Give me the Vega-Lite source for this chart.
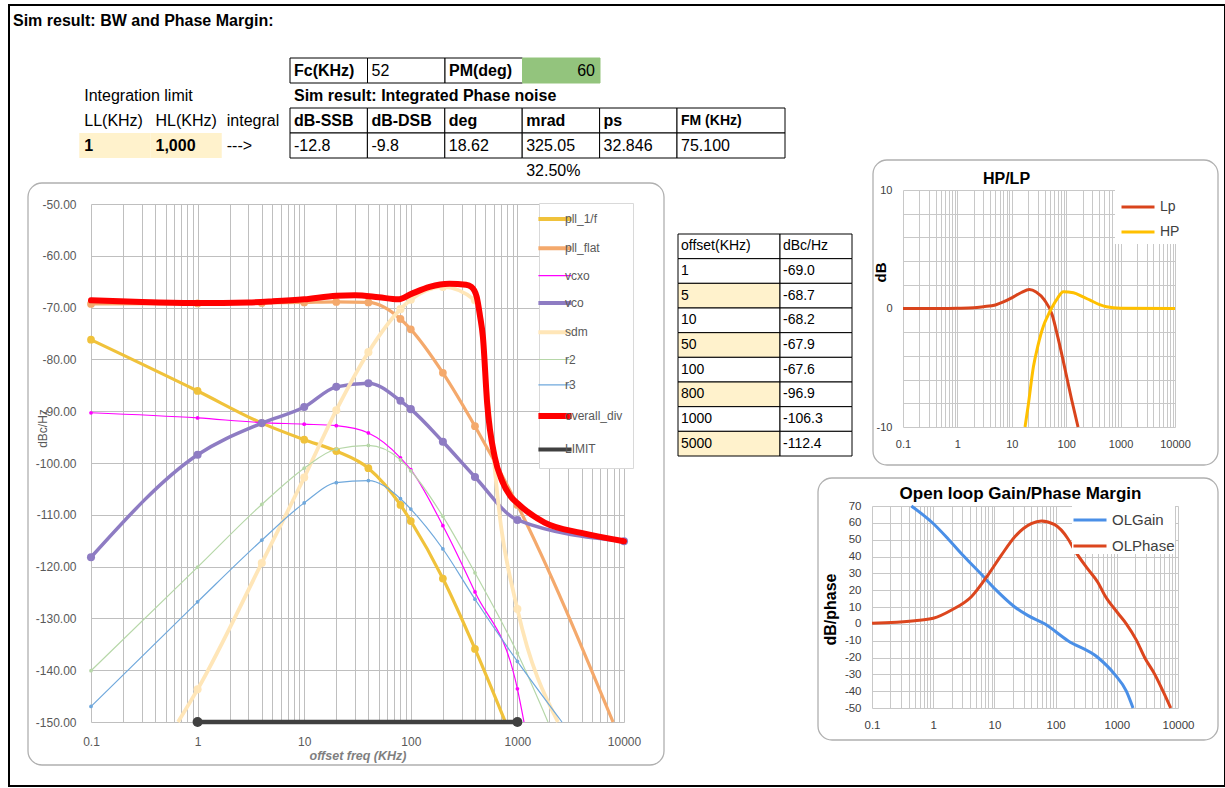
{
"$schema":"https://vega.github.io/schema/vega-lite/v6.json",
"width":1216,"height":781,
"autosize":{"type":"none"},
"padding":{"left":9,"top":5,"right":0,"bottom":2},
"background":"#ffffff",
"config":{"view":{"stroke":"#000000","strokeWidth":2},"font":"Liberation Sans"},
"datasets":{
"panels":[{"panel":"main"},{"panel":"hp"},{"panel":"ol"}],
"hdr":[
{"block":"left","row":"title","col":"t","text":"Sim result: BW and Phase Margin:","role":"title"},
{"block":"left","row":"lim","col":"LL","text":"Integration limit","role":"note"},
{"block":"left","row":"head","col":"LL","text":"LL(KHz)","role":"note"},
{"block":"left","row":"head","col":"HL","text":"HL(KHz)","role":"note"},
{"block":"left","row":"head","col":"int","text":"integral","role":"note"},
{"block":"left","row":"val","col":"LL","text":"1","role":"input"},
{"block":"left","row":"val","col":"HL","text":"1,000","role":"input"},
{"block":"left","row":"val","col":"int","text":"--->","role":"note"},
{"block":"t1","row":"fc","col":"Fc(KHz)","text":"Fc(KHz)","role":"label"},
{"block":"t1","row":"fc","col":"Fc","text":"52","role":"value"},
{"block":"t1","row":"fc","col":"PM(deg)","text":"PM(deg)","role":"label"},
{"block":"t1","row":"fc","col":"PM","text":"60","role":"result"},
{"block":"t2","row":"lim","col":"dB-SSB","text":"Sim result: Integrated Phase noise","role":"title"},
{"block":"t2","row":"head","col":"dB-SSB","text":"dB-SSB","role":"label"},
{"block":"t2","row":"head","col":"dB-DSB","text":"dB-DSB","role":"label"},
{"block":"t2","row":"head","col":"deg","text":"deg","role":"label"},
{"block":"t2","row":"head","col":"mrad","text":"mrad","role":"label"},
{"block":"t2","row":"head","col":"ps","text":"ps","role":"label"},
{"block":"t2","row":"val","col":"dB-SSB","text":"-12.8","role":"value"},
{"block":"t2","row":"val","col":"dB-DSB","text":"-9.8","role":"value"},
{"block":"t2","row":"val","col":"deg","text":"18.62","role":"value"},
{"block":"t2","row":"val","col":"mrad","text":"325.05","role":"value"},
{"block":"t2","row":"val","col":"ps","text":"32.846","role":"value"},
{"block":"t2","row":"pct","col":"mrad","text":"32.50%","role":"value"},
{"block":"fm","row":"head","col":"FM (KHz)","text":"FM (KHz)","role":"label"},
{"block":"fm","row":"val","col":"FM (KHz)","text":"75.100","role":"value"}
],
"offs":[
{"offset":"offset(KHz)","dBc":"dBc/Hz"},
{"offset":"1","dBc":"-69.0"},
{"offset":"5","dBc":"-68.7"},
{"offset":"10","dBc":"-68.2"},
{"offset":"50","dBc":"-67.9"},
{"offset":"100","dBc":"-67.6"},
{"offset":"800","dBc":"-96.9"},
{"offset":"1000","dBc":"-106.3"},
{"offset":"5000","dBc":"-112.4"}
],
"main":[
{"series":"pll_1/f","f":0.1,"dB":-76.2},{"series":"pll_1/f","f":1,"dB":-86.1},{"series":"pll_1/f","f":4,"dB":-92.3},{"series":"pll_1/f","f":10,"dB":-95.5},{"series":"pll_1/f","f":20,"dB":-97.7},{"series":"pll_1/f","f":40,"dB":-101.0},{"series":"pll_1/f","f":80,"dB":-108.1},{"series":"pll_1/f","f":100,"dB":-111.2},{"series":"pll_1/f","f":200,"dB":-122.3},{"series":"pll_1/f","f":400,"dB":-135.9},{"series":"pll_1/f","f":770,"dB":-150},
{"series":"pll_flat","f":0.1,"dB":-69.3},{"series":"pll_flat","f":1,"dB":-69.2},{"series":"pll_flat","f":4,"dB":-69.1},{"series":"pll_flat","f":10,"dB":-69.0},{"series":"pll_flat","f":20,"dB":-68.9},{"series":"pll_flat","f":40,"dB":-69.0},{"series":"pll_flat","f":80,"dB":-72.2},{"series":"pll_flat","f":100,"dB":-74.2},{"series":"pll_flat","f":200,"dB":-82.6},{"series":"pll_flat","f":400,"dB":-92.9},{"series":"pll_flat","f":1000,"dB":-108.1},{"series":"pll_flat","f":7890,"dB":-150},
{"series":"vcxo","f":0.1,"dB":-90.3},{"series":"vcxo","f":1,"dB":-91.3},{"series":"vcxo","f":4,"dB":-92.2},{"series":"vcxo","f":10,"dB":-92.5},{"series":"vcxo","f":20,"dB":-92.8},{"series":"vcxo","f":40,"dB":-94.2},{"series":"vcxo","f":80,"dB":-99.0},{"series":"vcxo","f":100,"dB":-101.3},{"series":"vcxo","f":200,"dB":-112.1},{"series":"vcxo","f":400,"dB":-124.9},{"series":"vcxo","f":1000,"dB":-143.6},{"series":"vcxo","f":1153,"dB":-150},
{"series":"vco","f":0.1,"dB":-118.2},{"series":"vco","f":1,"dB":-98.4},{"series":"vco","f":4,"dB":-92.3},{"series":"vco","f":10,"dB":-89.2},{"series":"vco","f":20,"dB":-85.3},{"series":"vco","f":40,"dB":-84.6},{"series":"vco","f":80,"dB":-88.0},{"series":"vco","f":100,"dB":-89.6},{"series":"vco","f":200,"dB":-95.9},{"series":"vco","f":400,"dB":-102.7},{"series":"vco","f":1000,"dB":-111.0},{"series":"vco","f":10000,"dB":-115.1},
{"series":"sdm","f":0.655,"dB":-150},{"series":"sdm","f":1,"dB":-143.7},{"series":"sdm","f":4,"dB":-119.3},{"series":"sdm","f":10,"dB":-102.8},{"series":"sdm","f":20,"dB":-89.8},{"series":"sdm","f":40,"dB":-78.6},{"series":"sdm","f":80,"dB":-70.3},{"series":"sdm","f":100,"dB":-68.5},{"series":"sdm","f":200,"dB":-66.0},{"series":"sdm","f":400,"dB":-68.6},{"series":"sdm","f":450,"dB":-72.5},{"series":"sdm","f":500,"dB":-82},{"series":"sdm","f":700,"dB":-112},{"series":"sdm","f":1000,"dB":-128.2},{"series":"sdm","f":2400,"dB":-150},
{"series":"r2","f":0.1,"dB":-140.1},{"series":"r2","f":1,"dB":-120.1},{"series":"r2","f":4,"dB":-108.0},{"series":"r2","f":10,"dB":-101.0},{"series":"r2","f":20,"dB":-97.3},{"series":"r2","f":40,"dB":-96.6},{"series":"r2","f":80,"dB":-99.4},{"series":"r2","f":100,"dB":-101.5},{"series":"r2","f":200,"dB":-110.3},{"series":"r2","f":400,"dB":-121.2},{"series":"r2","f":1000,"dB":-136.7},{"series":"r2","f":1937,"dB":-150},
{"series":"r3","f":0.1,"dB":-147.0},{"series":"r3","f":1,"dB":-126.8},{"series":"r3","f":4,"dB":-114.9},{"series":"r3","f":10,"dB":-107.7},{"series":"r3","f":20,"dB":-103.8},{"series":"r3","f":40,"dB":-103.4},{"series":"r3","f":80,"dB":-106.9},{"series":"r3","f":100,"dB":-108.9},{"series":"r3","f":200,"dB":-116.6},{"series":"r3","f":400,"dB":-126.3},{"series":"r3","f":1000,"dB":-138.3},{"series":"r3","f":2620,"dB":-150},
{"series":"overall_div","f":0.1,"dB":-68.6},{"series":"overall_div","f":0.3,"dB":-68.9},{"series":"overall_div","f":1,"dB":-69.1},{"series":"overall_div","f":3,"dB":-69.0},{"series":"overall_div","f":5,"dB":-68.8},{"series":"overall_div","f":10,"dB":-68.4},{"series":"overall_div","f":20,"dB":-67.7},{"series":"overall_div","f":30,"dB":-67.6},{"series":"overall_div","f":50,"dB":-68.0},{"series":"overall_div","f":76,"dB":-68.4},{"series":"overall_div","f":100,"dB":-67.4},{"series":"overall_div","f":150,"dB":-66.0},{"series":"overall_div","f":230,"dB":-65.4},{"series":"overall_div","f":330,"dB":-65.6},{"series":"overall_div","f":370,"dB":-66.0},{"series":"overall_div","f":415,"dB":-67.9},{"series":"overall_div","f":445,"dB":-71.5},{"series":"overall_div","f":475,"dB":-75.7},{"series":"overall_div","f":520,"dB":-88.4},{"series":"overall_div","f":612,"dB":-98.8},{"series":"overall_div","f":720,"dB":-103.5},{"series":"overall_div","f":853,"dB":-106.3},{"series":"overall_div","f":1018,"dB":-107.9},{"series":"overall_div","f":1800,"dB":-111.5},{"series":"overall_div","f":3980,"dB":-113.5},{"series":"overall_div","f":10000,"dB":-115.1},
{"series":"LIMIT","f":1,"dB":-150},{"series":"LIMIT","f":1000,"dB":-150}
],
"hp":[
{"series":"Lp","f":0.1,"dB":0},{"series":"Lp","f":0.5,"dB":0},{"series":"Lp","f":1,"dB":0.02},{"series":"Lp","f":2,"dB":0.06},{"series":"Lp","f":3,"dB":0.15},{"series":"Lp","f":5,"dB":0.3},{"series":"Lp","f":7,"dB":0.55},{"series":"Lp","f":10,"dB":0.9},{"series":"Lp","f":15,"dB":1.35},{"series":"Lp","f":21,"dB":1.6},{"series":"Lp","f":28,"dB":1.4},{"series":"Lp","f":40,"dB":0.7},{"series":"Lp","f":55,"dB":-0.5},{"series":"Lp","f":70,"dB":-2.4},{"series":"Lp","f":88,"dB":-4.4},{"series":"Lp","f":126,"dB":-7.7},{"series":"Lp","f":165,"dB":-10},
{"series":"HP","f":17.5,"dB":-10},{"series":"HP","f":20,"dB":-8.2},{"series":"HP","f":25,"dB":-4.9},{"series":"HP","f":30,"dB":-3.2},{"series":"HP","f":38,"dB":-1.5},{"series":"HP","f":45,"dB":-0.7},{"series":"HP","f":55,"dB":0.1},{"series":"HP","f":70,"dB":0.9},{"series":"HP","f":88,"dB":1.42},{"series":"HP","f":136,"dB":1.33},{"series":"HP","f":200,"dB":1.0},{"series":"HP","f":270,"dB":0.72},{"series":"HP","f":400,"dB":0.35},{"series":"HP","f":550,"dB":0.15},{"series":"HP","f":1000,"dB":0.03},{"series":"HP","f":10000,"dB":0}
],
"ol":[
{"series":"OLGain","f":0.44,"dB":70},{"series":"OLGain","f":1,"dB":59.6},{"series":"OLGain","f":1.8,"dB":50},{"series":"OLGain","f":3.2,"dB":40},{"series":"OLGain","f":5.9,"dB":30},{"series":"OLGain","f":10.7,"dB":20},{"series":"OLGain","f":21.5,"dB":10},{"series":"OLGain","f":35,"dB":5},{"series":"OLGain","f":66,"dB":0},{"series":"OLGain","f":159,"dB":-10},{"series":"OLGain","f":491,"dB":-20},{"series":"OLGain","f":923,"dB":-30},{"series":"OLGain","f":1432,"dB":-40},{"series":"OLGain","f":1840,"dB":-50},
{"series":"OLPhase","f":0.1,"dB":0.4},{"series":"OLPhase","f":0.5,"dB":1.9},{"series":"OLPhase","f":1,"dB":3.3},{"series":"OLPhase","f":2,"dB":8.2},{"series":"OLPhase","f":4.2,"dB":16.1},{"series":"OLPhase","f":7.85,"dB":29},{"series":"OLPhase","f":13,"dB":40.8},{"series":"OLPhase","f":21.4,"dB":51.6},{"series":"OLPhase","f":40,"dB":59.5},{"series":"OLPhase","f":58.5,"dB":61.1},{"series":"OLPhase","f":96.6,"dB":58.9},{"series":"OLPhase","f":158,"dB":50.7},{"series":"OLPhase","f":204,"dB":43.8},{"series":"OLPhase","f":330,"dB":32.9},{"series":"OLPhase","f":492,"dB":24.6},{"series":"OLPhase","f":631,"dB":17.1},{"series":"OLPhase","f":1045,"dB":6.3},{"series":"OLPhase","f":1430,"dB":0},{"series":"OLPhase","f":2090,"dB":-9.7},{"series":"OLPhase","f":2850,"dB":-20},{"series":"OLPhase","f":4170,"dB":-30},{"series":"OLPhase","f":5690,"dB":-40},{"series":"OLPhase","f":7590,"dB":-50}
]
},
"resolve":{"scale":{"x":"independent","y":"independent","color":"independent"},"axis":{"x":"independent","y":"independent"},"legend":{"color":"independent"}},
"layer":[
{"data":{"name":"panels"},"transform":[{"filter":"datum.panel === 'main'"}],
 "mark":{"type":"rect","filled":false,"stroke":"#b0b0b0","strokeWidth":1.3,"cornerRadius":14},
 "encoding":{"x":{"field":"panel","type":"nominal","scale":{"type":"band","domain":["main"],"range":[19,655],"paddingInner":0,"paddingOuter":0},"axis":null},
  "y":{"field":"panel","type":"nominal","scale":{"type":"band","domain":["main"],"range":[178,760],"paddingInner":0,"paddingOuter":0},"axis":null}}},
{"data":{"name":"panels"},"transform":[{"filter":"datum.panel === 'hp'"}],
 "mark":{"type":"rect","filled":false,"stroke":"#b0b0b0","strokeWidth":1.3,"cornerRadius":14},
 "encoding":{"x":{"field":"panel","type":"nominal","scale":{"type":"band","domain":["hp"],"range":[864,1209],"paddingInner":0,"paddingOuter":0},"axis":null},
  "y":{"field":"panel","type":"nominal","scale":{"type":"band","domain":["hp"],"range":[155,460],"paddingInner":0,"paddingOuter":0},"axis":null}}},
{"data":{"name":"panels"},"transform":[{"filter":"datum.panel === 'ol'"}],
 "mark":{"type":"rect","filled":false,"stroke":"#b0b0b0","strokeWidth":1.3,"cornerRadius":14},
 "encoding":{"x":{"field":"panel","type":"nominal","scale":{"type":"band","domain":["ol"],"range":[809,1209],"paddingInner":0,"paddingOuter":0},"axis":null},
  "y":{"field":"panel","type":"nominal","scale":{"type":"band","domain":["ol"],"range":[473,735],"paddingInner":0,"paddingOuter":0},"axis":null}}},
{"data":{"name":"hdr"},"transform":[{"filter":"datum.block === 'left'"}],
 "encoding":{"x":{"field":"col","type":"nominal","scale":{"type":"band","domain":["t","LL","HL","int"],"range":[-1,284],"paddingInner":0,"paddingOuter":0},"axis":null},
  "y":{"field":"row","type":"nominal","scale":{"type":"band","domain":["title","gap","fc","lim","head","val","pct"],"range":[3,178],"paddingInner":0,"paddingOuter":0},"axis":null}},
 "layer":[
  {"transform":[{"filter":"datum.role === 'input'"}],"mark":{"type":"rect","fill":"#fff2cc"}},
  {"transform":[{"filter":"datum.role === 'title' || datum.role === 'input'"}],"mark":{"type":"text","align":"left","dx":5,"fontSize":16,"fontWeight":"bold","color":"#000000"},
   "encoding":{"x":{"field":"col","type":"nominal","bandPosition":0,"scale":{"type":"band","domain":["t","LL","HL","int"],"range":[-1,284],"paddingInner":0,"paddingOuter":0},"axis":null},"text":{"field":"text","type":"nominal"}}},
  {"transform":[{"filter":"datum.role === 'note'"}],"mark":{"type":"text","align":"left","dx":5,"fontSize":16,"color":"#000000"},
   "encoding":{"x":{"field":"col","type":"nominal","bandPosition":0,"scale":{"type":"band","domain":["t","LL","HL","int"],"range":[-1,284],"paddingInner":0,"paddingOuter":0},"axis":null},"text":{"field":"text","type":"nominal"}}}
 ]},
{"data":{"name":"hdr"},"transform":[{"filter":"datum.block === 't1'"}],
 "encoding":{"x":{"field":"col","type":"nominal","scale":{"type":"band","domain":["Fc(KHz)","Fc","PM(deg)","PM"],"range":[281,591],"paddingInner":0,"paddingOuter":0},"axis":null},
  "y":{"field":"row","type":"nominal","scale":{"type":"band","domain":["title","gap","fc","lim","head","val","pct"],"range":[3,178],"paddingInner":0,"paddingOuter":0},"axis":null}},
 "layer":[
  {"mark":{"type":"rect","strokeWidth":1},"encoding":{"fill":{"condition":{"test":"datum.role === 'result'","value":"#93c47d"},"value":"#ffffff"},"stroke":{"condition":{"test":"datum.role === 'result'","value":"#93c47d"},"value":"#000000"}}},
  {"transform":[{"filter":"datum.role === 'label'"}],"mark":{"type":"text","align":"left","dx":4,"fontSize":16,"fontWeight":"bold","color":"#000000"},
   "encoding":{"x":{"field":"col","type":"nominal","bandPosition":0,"scale":{"type":"band","domain":["Fc(KHz)","Fc","PM(deg)","PM"],"range":[281,591],"paddingInner":0,"paddingOuter":0},"axis":null},"text":{"field":"text","type":"nominal"}}},
  {"transform":[{"filter":"datum.role === 'value'"}],"mark":{"type":"text","align":"left","dx":4,"fontSize":16,"color":"#000000"},
   "encoding":{"x":{"field":"col","type":"nominal","bandPosition":0,"scale":{"type":"band","domain":["Fc(KHz)","Fc","PM(deg)","PM"],"range":[281,591],"paddingInner":0,"paddingOuter":0},"axis":null},"text":{"field":"text","type":"nominal"}}},
  {"transform":[{"filter":"datum.role === 'result'"}],"mark":{"type":"text","align":"right","dx":-5,"fontSize":16,"color":"#000000"},
   "encoding":{"x":{"field":"col","type":"nominal","bandPosition":1,"scale":{"type":"band","domain":["Fc(KHz)","Fc","PM(deg)","PM"],"range":[281,591],"paddingInner":0,"paddingOuter":0},"axis":null},"text":{"field":"text","type":"nominal"}}}
 ]},
{"data":{"name":"hdr"},"transform":[{"filter":"datum.block === 't2'"}],
 "encoding":{"x":{"field":"col","type":"nominal","scale":{"type":"band","domain":["dB-SSB","dB-DSB","deg","mrad","ps"],"range":[281,668],"paddingInner":0,"paddingOuter":0},"axis":null},
  "y":{"field":"row","type":"nominal","scale":{"type":"band","domain":["title","gap","fc","lim","head","val","pct"],"range":[3,178],"paddingInner":0,"paddingOuter":0},"axis":null}},
 "layer":[
  {"transform":[{"filter":"datum.row === 'head' || datum.row === 'val'"}],"mark":{"type":"rect","fill":"#ffffff","stroke":"#000000","strokeWidth":1}},
  {"transform":[{"filter":"datum.role === 'label' || datum.role === 'title'"}],"mark":{"type":"text","align":"left","dx":4,"fontSize":16,"fontWeight":"bold","color":"#000000"},
   "encoding":{"x":{"field":"col","type":"nominal","bandPosition":0,"scale":{"type":"band","domain":["dB-SSB","dB-DSB","deg","mrad","ps"],"range":[281,668],"paddingInner":0,"paddingOuter":0},"axis":null},"text":{"field":"text","type":"nominal"}}},
  {"transform":[{"filter":"datum.role === 'value'"}],"mark":{"type":"text","align":"left","dx":4,"fontSize":16,"color":"#000000"},
   "encoding":{"x":{"field":"col","type":"nominal","bandPosition":0,"scale":{"type":"band","domain":["dB-SSB","dB-DSB","deg","mrad","ps"],"range":[281,668],"paddingInner":0,"paddingOuter":0},"axis":null},"text":{"field":"text","type":"nominal"}}}
 ]},
{"data":{"name":"hdr"},"transform":[{"filter":"datum.block === 'fm'"}],
 "encoding":{"x":{"field":"col","type":"nominal","scale":{"type":"band","domain":["FM (KHz)"],"range":[668,776],"paddingInner":0,"paddingOuter":0},"axis":null},
  "y":{"field":"row","type":"nominal","scale":{"type":"band","domain":["title","gap","fc","lim","head","val","pct"],"range":[3,178],"paddingInner":0,"paddingOuter":0},"axis":null}},
 "layer":[
  {"mark":{"type":"rect","fill":"#ffffff","stroke":"#000000","strokeWidth":1}},
  {"transform":[{"filter":"datum.role === 'label'"}],"mark":{"type":"text","align":"left","dx":4,"fontSize":14,"fontWeight":"bold","color":"#000000"},
   "encoding":{"x":{"field":"col","type":"nominal","bandPosition":0,"scale":{"type":"band","domain":["FM (KHz)"],"range":[668,776],"paddingInner":0,"paddingOuter":0},"axis":null},"text":{"field":"text","type":"nominal"}}},
  {"transform":[{"filter":"datum.role === 'value'"}],"mark":{"type":"text","align":"left","dx":4,"fontSize":16,"color":"#000000"},
   "encoding":{"x":{"field":"col","type":"nominal","bandPosition":0,"scale":{"type":"band","domain":["FM (KHz)"],"range":[668,776],"paddingInner":0,"paddingOuter":0},"axis":null},"text":{"field":"text","type":"nominal"}}}
 ]},
{"data":{"name":"offs"},"transform":[{"fold":["offset","dBc"],"as":["col","text"]},{"filter":"datum.col === 'offset'"}],
 "encoding":{"x":{"field":"col","type":"nominal","scale":{"type":"band","domain":["offset"],"range":[669,771],"paddingInner":0,"paddingOuter":0},"axis":null},
  "y":{"field":"offset","type":"nominal","scale":{"type":"band","domain":["offset(KHz)","1","5","10","50","100","800","1000","5000"],"range":[229,451],"paddingInner":0,"paddingOuter":0},"axis":null}},
 "layer":[
  {"mark":{"type":"rect","stroke":"#000000","strokeWidth":1},"encoding":{"fill":{"condition":{"test":"indexof(['5','50','800','5000'], datum.offset) >= 0","value":"#fff2cc"},"value":"#ffffff"}}},
  {"mark":{"type":"text","align":"left","dx":3,"fontSize":14,"color":"#000000"},
   "encoding":{"x":{"field":"col","type":"nominal","bandPosition":0,"scale":{"type":"band","domain":["offset"],"range":[669,771],"paddingInner":0,"paddingOuter":0},"axis":null},"text":{"field":"text","type":"nominal"}}}
 ]},
{"data":{"name":"offs"},"transform":[{"fold":["offset","dBc"],"as":["col","text"]},{"filter":"datum.col === 'dBc'"}],
 "encoding":{"x":{"field":"col","type":"nominal","scale":{"type":"band","domain":["dBc"],"range":[771,843],"paddingInner":0,"paddingOuter":0},"axis":null},
  "y":{"field":"offset","type":"nominal","scale":{"type":"band","domain":["offset(KHz)","1","5","10","50","100","800","1000","5000"],"range":[229,451],"paddingInner":0,"paddingOuter":0},"axis":null}},
 "layer":[
  {"mark":{"type":"rect","fill":"#ffffff","stroke":"#000000","strokeWidth":1}},
  {"mark":{"type":"text","align":"left","dx":3,"fontSize":14,"color":"#000000"},
   "encoding":{"x":{"field":"col","type":"nominal","bandPosition":0,"scale":{"type":"band","domain":["dBc"],"range":[771,843],"paddingInner":0,"paddingOuter":0},"axis":null},"text":{"field":"text","type":"nominal"}}}
 ]},
{"data":{"name":"main"},
 "encoding":{
  "x":{"field":"f","type":"quantitative","scale":{"type":"log","domain":[0.1,10000],"range":[82,615],"nice":false},
   "axis":{"orient":"top","offset":-717,"values":[0.1,0.2,0.3,0.4,0.5,0.6,0.7,0.8,0.9,1,2,3,4,5,6,7,8,9,10,20,30,40,50,60,70,80,90,100,200,300,400,500,600,700,800,900,1000,2000,3000,4000,5000,6000,7000,8000,9000,10000],
    "grid":true,"gridColor":"#bfbfbf","gridWidth":1,"domain":false,"ticks":false,"tickSize":0,"labelPadding":-14,"labelBaseline":"top","labelFontSize":12,"labelColor":"#595959",
    "labelExpr":"indexof([0.1,1,10,100,1000,10000], datum.value) >= 0 ? (datum.value < 1 ? '0.1' : format(datum.value, 'd')) : ''",
    "labelOverlap":false,"labelFlush":false,"labelBound":false,
    "title":"offset freq (KHz)","titleFontSize":12.5,"titleFontStyle":"italic","titleFontWeight":"bold","titleColor":"#7f7f7f","titleX":348.5,"titleY":33,"titleBaseline":"middle","titleAlign":"center"}},
  "y":{"field":"dB","type":"quantitative","scale":{"domain":[-150,-50],"range":[717,199],"nice":false,"zero":false},
   "axis":{"orient":"left","offset":-82,"values":[-150,-140,-130,-120,-110,-100,-90,-80,-70,-60,-50],"grid":true,"gridColor":"#bfbfbf","domain":false,"ticks":false,"tickSize":0,"labelPadding":15,"labelFontSize":12,"labelColor":"#595959",
    "labelExpr":"(datum.value < 0 ? '-' : '') + format(abs(datum.value), '.2f')","labelOverlap":false,"labelBound":false,"labelFlush":false,
    "title":"dBc/Hz","titleFontSize":12,"titleFontWeight":"normal","titleColor":"#595959","titleX":-49,"titleY":423,"titleAngle":-90,"titleBaseline":"middle","titleAlign":"center"}},
  "color":{"field":"series","type":"nominal",
   "scale":{"domain":["pll_1/f","pll_flat","vcxo","vco","sdm","r2","r3","overall_div","LIMIT"],"range":["#f0c23b","#f4a96c","#ff00ff","#8e7cc3","#ffe6b8","#b6d7a8","#6fa8dc","#ff0000","#404040"]},
   "legend":{"orient":"none","legendX":530,"legendY":198,"title":null,"symbolType":"stroke","symbolSize":1100,"symbolStrokeWidth":3,"labelFontSize":12,"labelColor":"#595959","padding":10,"rowPadding":13.3,"labelOffset":4,"strokeColor":"#d9d9d9","fillColor":"#ffffff","zindex":1,
    "encode":{"symbols":{"update":{"size":{"value":1100},"strokeWidth":{"signal":"indexof(['vcxo','r2','r3'], datum.value) >= 0 ? 1.2 : (datum.value === 'overall_div' ? 6 : 4)"}}}}}}
 },
 "layer":[
  {"transform":[{"filter":"datum.series === 'pll_1/f'"}],"mark":{"type":"line","strokeWidth":3.2,"interpolate":"monotone"},"encoding":{}},
  {"transform":[{"filter":"datum.series === 'pll_1/f'"},{"filter":{"field":"f","oneOf":[0.1,1,4,10,20,40,80,100,200,400,1000,10000]}}],"mark":{"type":"point","filled":true,"size":60,"opacity":1}},
  {"transform":[{"filter":"datum.series === 'pll_flat'"}],"mark":{"type":"line","strokeWidth":3.2,"interpolate":"monotone"},"encoding":{}},
  {"transform":[{"filter":"datum.series === 'pll_flat'"},{"filter":{"field":"f","oneOf":[0.1,1,4,10,20,40,80,100,200,400,1000,10000]}}],"mark":{"type":"point","filled":true,"size":60,"opacity":1}},
  {"transform":[{"filter":"datum.series === 'vcxo'"}],"mark":{"type":"line","strokeWidth":1.2,"interpolate":"monotone"},"encoding":{}},
  {"transform":[{"filter":"datum.series === 'vcxo'"},{"filter":{"field":"f","oneOf":[0.1,1,4,10,20,40,80,100,200,400,1000,10000]}}],"mark":{"type":"point","filled":true,"size":14,"opacity":1}},
  {"transform":[{"filter":"datum.series === 'vco'"}],"mark":{"type":"line","strokeWidth":3.5,"interpolate":"monotone"},"encoding":{}},
  {"transform":[{"filter":"datum.series === 'vco'"},{"filter":{"field":"f","oneOf":[0.1,1,4,10,20,40,80,100,200,400,1000,10000]}}],"mark":{"type":"point","filled":true,"size":65,"opacity":1}},
  {"transform":[{"filter":"datum.series === 'sdm'"}],"mark":{"type":"line","strokeWidth":3.8,"interpolate":"monotone"},"encoding":{}},
  {"transform":[{"filter":"datum.series === 'sdm'"},{"filter":{"field":"f","oneOf":[0.1,1,4,10,20,40,80,100,200,400,1000,10000]}}],"mark":{"type":"point","filled":true,"size":65,"opacity":1}},
  {"transform":[{"filter":"datum.series === 'r2'"}],"mark":{"type":"line","strokeWidth":1.2,"interpolate":"monotone"},"encoding":{}},
  {"transform":[{"filter":"datum.series === 'r2'"},{"filter":{"field":"f","oneOf":[0.1,1,4,10,20,40,80,100,200,400,1000,10000]}}],"mark":{"type":"point","filled":true,"size":14,"opacity":1}},
  {"transform":[{"filter":"datum.series === 'r3'"}],"mark":{"type":"line","strokeWidth":1.2,"interpolate":"monotone"},"encoding":{}},
  {"transform":[{"filter":"datum.series === 'r3'"},{"filter":{"field":"f","oneOf":[0.1,1,4,10,20,40,80,100,200,400,1000,10000]}}],"mark":{"type":"point","filled":true,"size":14,"opacity":1}},
  {"transform":[{"filter":"datum.series === 'overall_div'"}],"mark":{"type":"line","strokeWidth":6,"interpolate":"monotone","strokeJoin":"round","strokeCap":"round"},"encoding":{}},
  {"transform":[{"filter":"datum.series === 'LIMIT'"}],"mark":{"type":"line","strokeWidth":4.5,"point":{"filled":true,"size":100,"opacity":1}},"encoding":{}}
 ]},
{"data":{"name":"hp"},
 "encoding":{
  "x":{"field":"f","type":"quantitative","scale":{"type":"log","domain":[0.1,10000],"range":[894,1166],"nice":false},
   "axis":{"orient":"top","offset":-422,"values":[0.1,0.2,0.3,0.4,0.5,0.6,0.7,0.8,0.9,1,2,3,4,5,6,7,8,9,10,20,30,40,50,60,70,80,90,100,200,300,400,500,600,700,800,900,1000,2000,3000,4000,5000,6000,7000,8000,9000,10000],
    "grid":true,"gridColor":"#c8c8c8","gridWidth":1,"domain":false,"ticks":false,"tickSize":0,"labelPadding":-11,"labelBaseline":"top","labelFontSize":11,"labelColor":"#404040",
    "labelExpr":"indexof([0.1,1,10,100,1000,10000], datum.value) >= 0 ? (datum.value < 1 ? '0.1' : format(datum.value, 'd')) : ''",
    "labelOverlap":false,"labelFlush":false,"labelBound":false,
    "title":"HP/LP","titleFontSize":16,"titleFontWeight":"bold","titleColor":"#000000","titleX":997,"titleY":-249,"titleBaseline":"middle","titleAlign":"center"}},
  "y":{"field":"dB","type":"quantitative","scale":{"domain":[-10,10],"range":[422,185],"nice":false,"zero":false},
   "axis":{"orient":"left","offset":-894,"values":[-10,-8,-6,-4,-2,0,2,4,6,8,10],"grid":true,"gridColor":"#c8c8c8","domain":false,"ticks":false,"tickSize":0,"labelPadding":11,"labelFontSize":11,"labelColor":"#404040",
    "labelExpr":"datum.value % 10 == 0 ? ((datum.value < 0 ? '-' : '') + format(abs(datum.value), 'd')) : ''","labelOverlap":false,"labelBound":false,"labelFlush":false,
    "title":"dB","titleFontSize":15,"titleFontWeight":"bold","titleColor":"#000000","titleX":-23,"titleY":267,"titleAngle":-90,"titleBaseline":"middle","titleAlign":"center"}},
  "color":{"field":"series","type":"nominal","scale":{"domain":["Lp","HP"],"range":["#d9441c","#ffc000"]},
   "legend":{"orient":"none","legendX":1106,"legendY":179,"title":null,"symbolType":"stroke","symbolSize":1089,"symbolStrokeWidth":3,"labelFontSize":14,"labelColor":"#404040","padding":5,"rowPadding":-3,"labelOffset":4,"fillColor":"#ffffff","zindex":1}}
 },
 "layer":[
  {"mark":{"type":"line","strokeWidth":3,"interpolate":"monotone"},"encoding":{}}
 ]},
{"data":{"name":"ol"},
 "encoding":{
  "x":{"field":"f","type":"quantitative","scale":{"type":"log","domain":[0.1,10000],"range":[863,1169],"nice":false},
   "axis":{"orient":"top","offset":-703,"values":[0.1,0.2,0.3,0.4,0.5,0.6,0.7,0.8,0.9,1,2,3,4,5,6,7,8,9,10,20,30,40,50,60,70,80,90,100,200,300,400,500,600,700,800,900,1000,2000,3000,4000,5000,6000,7000,8000,9000,10000],
    "grid":true,"gridColor":"#c8c8c8","gridWidth":1,"domain":false,"ticks":false,"tickSize":0,"labelPadding":-11,"labelBaseline":"top","labelFontSize":11.5,"labelColor":"#404040",
    "labelExpr":"indexof([0.1,1,10,100,1000,10000], datum.value) >= 0 ? (datum.value < 1 ? '0.1' : format(datum.value, 'd')) : ''",
    "labelOverlap":false,"labelFlush":false,"labelBound":false,
    "title":"Open loop Gain/Phase Margin","titleFontSize":17,"titleFontWeight":"bold","titleColor":"#000000","titleX":1011,"titleY":-215,"titleBaseline":"middle","titleAlign":"center"}},
  "y":{"field":"dB","type":"quantitative","scale":{"domain":[-50,70],"range":[703,501],"nice":false,"zero":false},
   "axis":{"orient":"left","offset":-863,"values":[-50,-40,-30,-20,-10,0,10,20,30,40,50,60,70],"grid":true,"gridColor":"#c8c8c8","domain":false,"ticks":false,"tickSize":0,"labelPadding":11,"labelFontSize":11.5,"labelColor":"#404040",
    "labelExpr":"(datum.value < 0 ? '-' : '') + format(abs(datum.value), 'd')","labelOverlap":false,"labelBound":false,"labelFlush":false,
    "title":"dB/phase","titleFontSize":16,"titleFontWeight":"bold","titleColor":"#000000","titleX":-42,"titleY":604,"titleAngle":-90,"titleBaseline":"middle","titleAlign":"center"}},
  "color":{"field":"series","type":"nominal","scale":{"domain":["OLGain","OLPhase"],"range":["#4a8fe7","#dc461e"]},
   "legend":{"orient":"none","legendX":1063,"legendY":497,"title":null,"symbolType":"stroke","symbolSize":1089,"symbolStrokeWidth":3,"labelFontSize":15,"labelColor":"#404040","padding":0,"rowPadding":-14,"labelOffset":4,"fillColor":"#ffffff","zindex":1}}
 },
 "layer":[
  {"mark":{"type":"line","strokeWidth":3,"interpolate":"monotone"},"encoding":{}}
 ]}
]
}
